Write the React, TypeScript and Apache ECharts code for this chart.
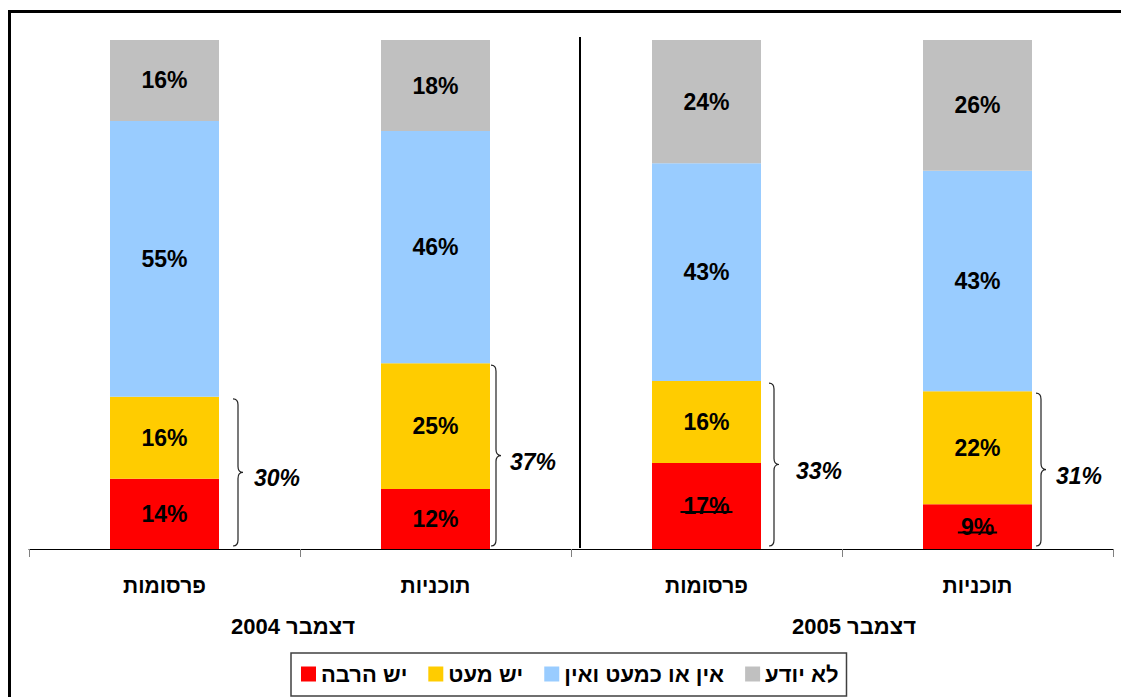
import React, { useEffect, useRef } from "react";
import * as echarts from "echarts";

// ---- data ----
const categories = ["פרסומות", "תוכניות", "פרסומות", "תוכניות"];
const groups = ["דצמבר 2004", "דצמבר 2005"];
const seriesNames = ["יש הרבה", "יש מעט", "אין או כמעט ואין", "לא יודע"];
// segment heights (percent of bar)
const muchValues = [13.8, 11.8, 16.9, 8.8];
const littleValues = [16.1, 24.7, 16.1, 22.2];
const noneValues = [54.2, 45.6, 42.8, 43.3];
const unknownValues = [15.9, 17.9, 24.2, 25.7];
// printed labels
const muchLabels = [14, 12, 17, 9];
const littleLabels = [16, 25, 16, 22];
const noneLabels = [55, 46, 43, 43];
const unknownLabels = [16, 18, 24, 26];

// ---- styles / layout ----
const colors = ["#FF0000", "#FFCC00", "#99CCFF", "#C0C0C0"];
const FONT = "'Liberation Sans', Arial, Helvetica, sans-serif";
const underlinedMuch = [false, false, true, true];
const braceGap = [14, 1, 8, 4];
const braceTextGap = [11, 9, 17, 10];
const groupShift = [-7, 12];

const Brace = echarts.graphic.extendShape({
  shape: { x: 0, top: 0, bottom: 0, w: 10 },
  buildPath(ctx: any, s: any) {
    const { x, top, bottom, w } = s;
    const mid = (top + bottom) / 2;
    const h = w / 2;
    const r = 6;
    ctx.moveTo(x, top);
    ctx.quadraticCurveTo(x + h, top, x + h, top + r);
    ctx.lineTo(x + h, mid - r);
    ctx.quadraticCurveTo(x + h, mid, x + w, mid);
    ctx.moveTo(x + w, mid);
    ctx.quadraticCurveTo(x + h, mid, x + h, mid + r);
    ctx.lineTo(x + h, bottom - r);
    ctx.quadraticCurveTo(x + h, bottom, x, bottom);
  },
});
echarts.graphic.registerShape("brace", Brace as any);

function measure(text: string, font: string): number {
  const c = document.createElement("canvas").getContext("2d");
  if (!c) return text.length * 12;
  c.font = font;
  return c.measureText(text).width;
}

export default function App() {
  const ref = useRef<HTMLDivElement>(null);
  useEffect(() => {
    if (!ref.current) return;
    const chart = echarts.init(ref.current, null, { renderer: "svg" });
    const valueSets = [muchValues, littleValues, noneValues, unknownValues];
    const labelSets = [muchLabels, littleLabels, noneLabels, unknownLabels];
    const option: any = {
      animation: false,
      backgroundColor: "#ffffff",
      grid: { left: 29, right: 8, top: 40, bottom: 148 },
      xAxis: {
        type: "category",
        data: categories.map((c, i) => `${i}|${c}`),
        axisLine: { lineStyle: { color: "#000", width: 1 } },
        axisTick: { show: true, length: 8, lineStyle: { color: "#808080", width: 1 } },
        axisLabel: {
          formatter: (v: string) => v.split("|")[1],
          fontSize: 21,
          fontWeight: "bold",
          color: "#000",
          fontFamily: FONT,
          margin: 26,
        },
      },
      yAxis: { type: "value", min: 0, max: 100, show: false },
      legend: {
        left: 291,
        top: 653,
        orient: "horizontal",
        icon: "rect",
        itemWidth: 15,
        itemHeight: 15,
        itemGap: 21,
        padding: [10, 8, 11, 10],
        borderColor: "#404040",
        borderWidth: 1.5,
        selectedMode: false,
        textStyle: { fontSize: 22, fontWeight: "bold", color: "#000", fontFamily: FONT },
        data: seriesNames,
      },
      series: seriesNames.map((name, s) => ({
        name,
        type: "bar",
        stack: "total",
        barWidth: 109,
        data: valueSets[s],
        itemStyle: { color: colors[s] },
        label: {
          show: true,
          position: "inside",
          formatter: (p: any) => `${labelSets[s][p.dataIndex]}%`,
          fontSize: 23,
          fontWeight: "bold",
          color: "#000",
          fontFamily: FONT,
        },
      })),
    };
    chart.setOption(option);

    const px = (i: number, v: number) =>
      chart.convertToPixel({ gridIndex: 0 } as any, [i, v]) as number[];
    const axisY = px(0, 0)[1];
    const halfBar = 54.5;
    const graphics: any[] = [];

    // outer frame
    graphics.push({
      type: "rect",
      z: 100,
      shape: { x: 9.5, y: 11.5, width: 1200, height: 800 },
      style: { fill: "none", stroke: "#000", lineWidth: 3 },
      silent: true,
    });

    // separator between years
    const sepX = (px(1, 0)[0] + px(2, 0)[0]) / 2 + 9;
    graphics.push({
      type: "line",
      z: 100,
      shape: { x1: sepX, y1: px(0, 100)[1] - 3, x2: sepX, y2: axisY - 1 },
      style: { stroke: "#000", lineWidth: 2 },
      silent: true,
    });

    // braces with sums
    categories.forEach((_, i) => {
      const cx = px(i, 0)[0];
      const topVal = muchValues[i] + littleValues[i];
      const top = px(i, topVal)[1] + 2;
      const bottom = axisY - 3;
      const x = cx + halfBar + braceGap[i];
      const mid = (top + bottom) / 2;
      graphics.push({
        type: "brace",
        z: 100,
        shape: { x, top, bottom, w: 10 },
        style: { fill: "none", stroke: "#222", lineWidth: 1.2 },
        silent: true,
      });
      graphics.push({
        type: "text",
        z: 100,
        x: x + 10 + braceTextGap[i],
        y: mid + 6,
        style: {
          text: `${muchLabels[i] + littleLabels[i]}%`,
          fill: "#000",
          fontSize: 23,
          fontWeight: "bold",
          fontStyle: "italic",
          fontFamily: FONT,
          textAlign: "left",
          textVerticalAlign: "middle",
        },
        silent: true,
      });
    });

    // underline artefacts on some labels
    categories.forEach((_, i) => {
      if (!underlinedMuch[i]) return;
      const cx = px(i, 0)[0];
      const cy = px(i, muchValues[i] / 2)[1];
      const w = measure(`${muchLabels[i]}%`, `bold 23px ${FONT}`) + 6;
      graphics.push({
        type: "line",
        z: 100,
        shape: { x1: cx - w / 2, y1: cy + 6, x2: cx + w / 2, y2: cy + 6 },
        style: { stroke: "#000", lineWidth: 2 },
        silent: true,
      });
    });

    // group labels
    groups.forEach((g, k) => {
      const gx = (px(2 * k, 0)[0] + px(2 * k + 1, 0)[0]) / 2 + groupShift[k];
      graphics.push({
        type: "text",
        z: 100,
        x: gx,
        y: 626,
        style: {
          text: g,
          fill: "#000",
          fontSize: 22,
          fontWeight: "bold",
          fontFamily: FONT,
          textAlign: "center",
          textVerticalAlign: "middle",
        },
        silent: true,
      });
    });

    chart.setOption({ graphic: graphics });
    return () => chart.dispose();
  }, []);
  return (
    <div
      ref={ref}
      style={{ position: "fixed", left: 0, top: 0, width: 1121, height: 697, background: "#fff" }}
    />
  );
}
